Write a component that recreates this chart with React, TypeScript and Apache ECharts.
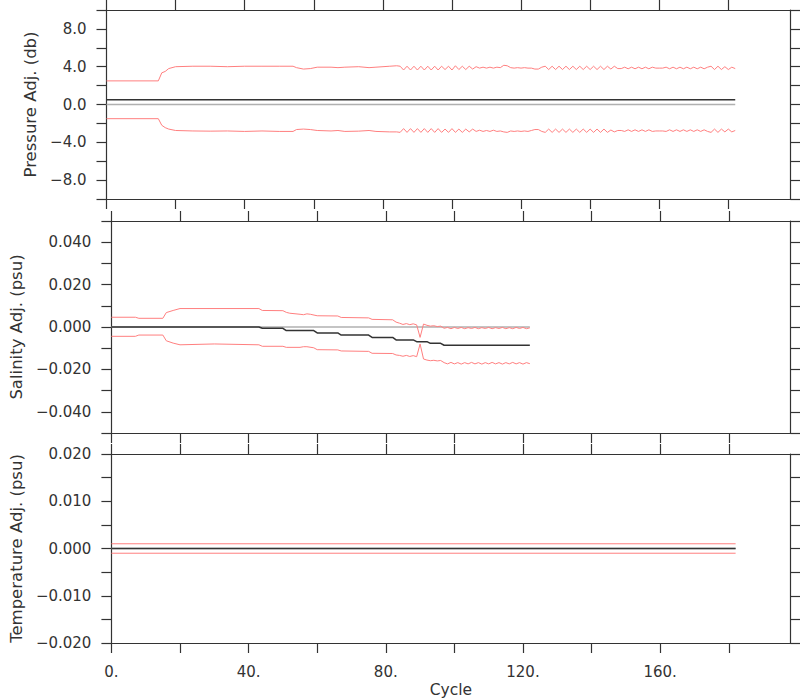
import React, { useEffect, useRef } from "react";
import * as echarts from "echarts";

// ---------- axes ----------
const X_MAX = 198;
const xTickValues = [0, 20, 40, 60, 80, 100, 120, 140, 160, 180];
const xLabelValues = [0, 40, 80, 120, 160];

const pressureTicks = [-10, -8, -6, -4, -2, 0, 2, 4, 6, 8, 10];
const pressureLabels = [-8, -4, 0, 4, 8];
const salinityTicks = [-0.05, -0.04, -0.03, -0.02, -0.01, 0, 0.01, 0.02, 0.03, 0.04, 0.05];
const salinityLabels = [-0.04, -0.02, 0, 0.02, 0.04];
const temperatureTicks = [-0.02, -0.015, -0.01, -0.005, 0, 0.005, 0.01, 0.015, 0.02];
const temperatureLabels = [-0.02, -0.01, 0, 0.01, 0.02];

// ---------- pressure ----------
const pressureZeroCycles = [0, 182];
const pressureZeroValues = [0, 0];
const pressureAdjCycles = [0, 182];
const pressureAdjValues = [0.5, 0.5];
const pressureUpperCycles = [0, 15, 16, 17, 18, 20, 25, 30, 35, 40, 45, 50, 54, 55, 57, 59, 61, 65, 67, 69, 73, 76, 78, 82, 84];
const pressureUpperValues = [2.5, 2.5, 3.35, 3.5, 3.8, 4.0, 4.05, 4.05, 4.0, 4.05, 4.05, 4.05, 4.05, 3.9, 3.75, 3.8, 3.95, 3.95, 3.9, 3.95, 4.0, 3.9, 3.95, 4.05, 4.1];
const pressureLowerCycles = pressureUpperCycles;
const pressureLowerValues = [-1.5, -1.5, -2.2, -2.45, -2.6, -2.75, -2.8, -2.82, -2.8, -2.85, -2.8, -2.85, -2.85, -2.65, -2.6, -2.65, -2.75, -2.8, -2.75, -2.85, -2.82, -2.75, -2.85, -2.9, -2.9];
// one value per cycle, cycles 85..182
const pressureLateStart = 85;
const pressureUpperLate = [
  4.05, 3.65, 4.05, 3.65, 4.05, 3.65, 4.05, 3.65, 4.05, 3.65, 4.05, 3.65, 4.05, 3.7, 4.05, 3.65, 4.1, 3.7, 4.05, 3.7, 4.05, 3.75, 4.0,
  3.85, 3.95, 3.85, 3.95, 3.85, 3.95, 3.9,
  4.15, 4.1, 3.9, 3.85, 3.9, 3.85, 3.9, 3.85, 3.85, 3.75, 3.75, 3.95,
  4.05, 3.7, 4.05, 3.7, 4.05, 3.7, 4.05, 3.7, 4.05, 3.7, 4.05, 3.7, 4.05, 3.7, 4.05, 3.7, 4.05, 3.7, 4.05, 3.75,
  4.05, 3.8, 3.8,
  3.95, 3.78, 3.95, 3.78, 3.95, 3.78, 3.95, 3.78, 3.95,
  3.85, 3.85, 3.85,
  3.95, 3.78, 3.95, 3.78, 3.95, 3.78, 3.95, 3.78, 3.95, 3.78, 3.95, 3.78, 3.95,
  4.05, 3.7, 4.05, 3.7, 4.0, 3.7, 3.95, 3.8,
];
const pressureLowerLate = [
  -2.95, -2.55, -2.95, -2.55, -2.95, -2.55, -2.95, -2.55, -2.95, -2.55, -2.95, -2.55, -2.95, -2.6, -2.95, -2.55, -2.95, -2.6, -2.95, -2.6, -2.9, -2.6, -2.85,
  -2.72, -2.85, -2.75, -2.85, -2.72, -2.85, -2.8,
  -2.9, -2.95, -2.8, -2.85, -2.8, -2.85, -2.8, -2.85, -2.75, -2.65, -2.65, -2.85,
  -2.95, -2.6, -2.95, -2.6, -2.95, -2.6, -2.95, -2.6, -2.95, -2.6, -2.95, -2.6, -2.95, -2.6, -2.95, -2.6, -2.95, -2.6, -2.95, -2.7,
  -2.9, -2.75, -2.75,
  -2.85, -2.68, -2.85, -2.68, -2.85, -2.68, -2.85, -2.68, -2.85,
  -2.8, -2.8, -2.8,
  -2.85, -2.68, -2.85, -2.68, -2.85, -2.68, -2.85, -2.68, -2.85, -2.68, -2.85, -2.68, -2.85,
  -2.95, -2.6, -2.95, -2.6, -2.9, -2.6, -2.9, -2.75,
];

// ---------- salinity ----------
const salinityZeroCycles = [0, 122];
const salinityZeroValues = [0, 0];
const salinityAdjCycles = [0, 43, 44, 50, 51, 59, 60, 66, 67, 75, 76, 82, 83, 88, 89, 92, 93, 96, 97, 122];
const salinityAdjValues = [0, 0, -0.0006, -0.0006, -0.0017, -0.0017, -0.0028, -0.0028, -0.0038, -0.0038, -0.0049, -0.0049, -0.0061, -0.0061, -0.0069, -0.0069, -0.0077, -0.0077, -0.0086, -0.0086];
const salinityUpperCycles = [0, 7, 8, 15, 16, 18, 20, 43, 44, 50, 51, 52, 55, 56, 57, 58, 60, 66, 67, 75, 76, 82, 83];
const salinityUpperValues = [0.0046, 0.0046, 0.0041, 0.0041, 0.0068, 0.0078, 0.0087, 0.0087, 0.0078, 0.0077, 0.0069, 0.0065, 0.006, 0.0058, 0.0062, 0.006, 0.0053, 0.0052, 0.0045, 0.0043, 0.0036, 0.0034, 0.0023];
const salinityLowerCycles = [0, 7, 8, 15, 16, 18, 20, 30, 43, 44, 50, 51, 55, 56, 57, 59, 60, 66, 67, 75, 76, 82, 83];
const salinityLowerValues = [-0.0044, -0.0044, -0.0038, -0.0038, -0.0065, -0.0076, -0.0084, -0.008, -0.0084, -0.0091, -0.0091, -0.0096, -0.0096, -0.0093, -0.0093, -0.0098, -0.0107, -0.0108, -0.0113, -0.0115, -0.0124, -0.0125, -0.0132];
// one value per cycle, cycles 84..122
const salinityLateStart = 84;
const salinityUpperLate = [
  0.0018, 0.0012, 0.0016, 0.0011, 0.0015, 0.001, -0.0049, 0.0014, 0.0008, 0.0004, 0.0006, 0.0002, 0.0004,
  -0.0006, -0.0002, -0.0008, -0.0002, -0.0007, -0.0002, -0.0008, -0.0003, -0.0007, -0.0002, -0.0008, -0.0003, -0.0007,
  -0.0002, -0.0008, -0.0003, -0.0007, -0.0002, -0.0008, -0.0003, -0.0008, -0.0002, -0.0007, -0.0002, -0.0008, -0.0004,
];
const salinityLowerLate = [
  -0.0134, -0.0138, -0.0134, -0.0139, -0.0135, -0.014, -0.008, -0.0151, -0.0156, -0.0159, -0.0157, -0.016, -0.0158,
  -0.0168, -0.0174, -0.0167, -0.0174, -0.0168, -0.0175, -0.0168, -0.0174, -0.0167, -0.0174, -0.0168, -0.0175, -0.0168,
  -0.0174, -0.0167, -0.0174, -0.0168, -0.0175, -0.0168, -0.0174, -0.0167, -0.0174, -0.0168, -0.0175, -0.0168, -0.0173,
];

// ---------- temperature ----------
const temperatureCycles = [0, 182];
const temperatureZeroValues = [0, 0];
const temperatureAdjValues = [0, 0];
const temperatureUpperValues = [0.001, 0.001];
const temperatureLowerValues = [-0.001, -0.001];

const FONT = "DejaVu Sans";
const AXIS_COLOR = "#333";
const TEXT_COLOR = "#333";
const RED = "#ff7f7f";
const GRAY = "#b0b0b0";
const DARK = "#333333";

const pairs = (xs: number[], ys: number[]) => xs.map((x, i) => [x, ys[i]]);
const withLate = (xs: number[], ys: number[], start: number, late: number[]) =>
  pairs(xs, ys).concat(late.map((v, i) => [start + i, v]));

const minus = (s: string) => s.replace("-", "\u2212");

function buildOption() {
  const grids = [
    { left: 106.5, right: 9.5, top: 10, height: 189 },
    { left: 106.5, right: 9.5, top: 221, height: 212 },
    { left: 106.5, right: 9.5, top: 454, height: 189 },
  ];

  const lineStyle = { color: AXIS_COLOR, width: 1.2 };
  const xAxis: any[] = [];
  grids.forEach((_, g) => {
    ["bottom", "top"].forEach((pos) => {
      const labeled = g === 2 && pos === "bottom";
      xAxis.push({
        type: "value",
        gridIndex: g,
        position: pos,
        min: 0,
        max: X_MAX,
        axisLine: { show: true, onZero: false, lineStyle },
        axisTick: { show: true, inside: false, length: 10, customValues: xTickValues, lineStyle },
        axisLabel: {
          show: labeled,
          customValues: xLabelValues,
          formatter: (v: number) => `${v}.`,
          fontFamily: FONT,
          fontSize: 15,
          color: TEXT_COLOR,
          margin: 21,
        },
        splitLine: { show: false },
        name: labeled ? "Cycle" : "",
        nameLocation: "middle",
        nameGap: 39,
        nameTextStyle: { fontFamily: FONT, fontSize: 15.5, color: TEXT_COLOR },
      });
    });
  });

  const ySpecs = [
    { min: -10, max: 10, ticks: pressureTicks, labels: pressureLabels, fmt: (v: number) => minus(v.toFixed(1)), name: "Pressure Adj. (db)", gap: 63 },
    { min: -0.05, max: 0.05, ticks: salinityTicks, labels: salinityLabels, fmt: (v: number) => minus(v.toFixed(3)), name: "Salinity Adj. (psu)", gap: 78 },
    { min: -0.02, max: 0.02, ticks: temperatureTicks, labels: temperatureLabels, fmt: (v: number) => minus(v.toFixed(3)), name: "Temperature Adj. (psu)", gap: 78 },
  ];
  const yAxis: any[] = [];
  ySpecs.forEach((s, g) => {
    ["left", "right"].forEach((pos) => {
      const labeled = pos === "left";
      yAxis.push({
        type: "value",
        gridIndex: g,
        position: pos,
        min: s.min,
        max: s.max,
        axisLine: { show: true, onZero: false, lineStyle },
        axisTick: { show: true, inside: false, length: 10, customValues: s.ticks, lineStyle },
        axisLabel: {
          show: labeled,
          customValues: s.labels,
          formatter: s.fmt,
          fontFamily: FONT,
          fontSize: 15,
          color: TEXT_COLOR,
          margin: 20,
        },
        splitLine: { show: false },
        name: labeled ? s.name : "",
        nameLocation: "middle",
        nameRotate: 90,
        nameGap: s.gap,
        nameTextStyle: { fontFamily: FONT, fontSize: 16.5, color: TEXT_COLOR },
      });
    });
  });

  const line = (g: number, data: number[][], color: string, width: number, z: number) => ({
    type: "line",
    xAxisIndex: g * 2,
    yAxisIndex: g * 2,
    data,
    showSymbol: false,
    symbol: "none",
    silent: true,
    z,
    lineStyle: { color, width },
  });

  const series = [
    line(0, pairs(pressureZeroCycles, pressureZeroValues), GRAY, 1.5, 1),
    line(0, withLate(pressureUpperCycles, pressureUpperValues, pressureLateStart, pressureUpperLate), RED, 1, 2),
    line(0, withLate(pressureLowerCycles, pressureLowerValues, pressureLateStart, pressureLowerLate), RED, 1, 2),
    line(0, pairs(pressureAdjCycles, pressureAdjValues), DARK, 1.5, 3),

    line(1, pairs(salinityZeroCycles, salinityZeroValues), GRAY, 1.5, 1),
    line(1, withLate(salinityUpperCycles, salinityUpperValues, salinityLateStart, salinityUpperLate), RED, 1, 2),
    line(1, withLate(salinityLowerCycles, salinityLowerValues, salinityLateStart, salinityLowerLate), RED, 1, 2),
    line(1, pairs(salinityAdjCycles, salinityAdjValues), DARK, 1.5, 3),

    line(2, pairs(temperatureCycles, temperatureZeroValues), GRAY, 1.5, 1),
    line(2, pairs(temperatureCycles, temperatureUpperValues), RED, 1, 2),
    line(2, pairs(temperatureCycles, temperatureLowerValues), RED, 1, 2),
    line(2, pairs(temperatureCycles, temperatureAdjValues), DARK, 1.5, 3),
  ];

  return {
    animation: false,
    backgroundColor: "#ffffff",
    grid: grids,
    xAxis,
    yAxis,
    series,
  };
}

export default function App() {
  const ref = useRef<HTMLDivElement>(null);
  useEffect(() => {
    if (!ref.current) return;
    const chart = echarts.init(ref.current, undefined, { renderer: "svg" });
    chart.setOption(buildOption() as any);
    return () => chart.dispose();
  }, []);
  return (
    <div
      ref={ref}
      style={{ position: "fixed", left: 0, top: 0, width: 800, height: 700, background: "#fff" }}
    />
  );
}
